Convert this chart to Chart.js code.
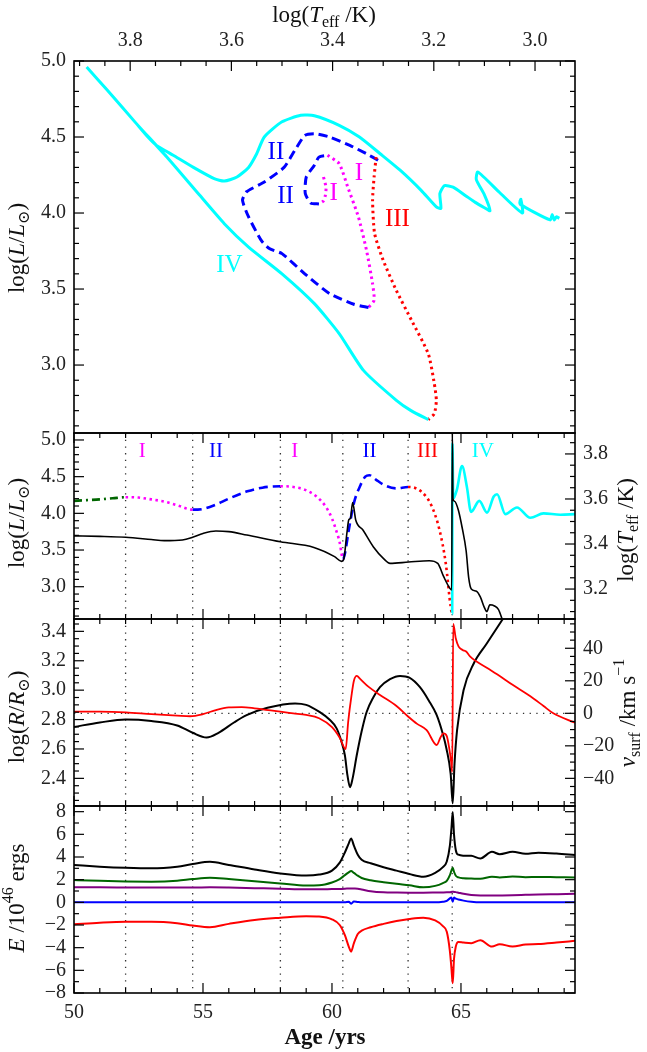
<!DOCTYPE html>
<html>
<head>
<meta charset="utf-8">
<script src="https://cdn.jsdelivr.net/npm/chart.js@4.4.1/dist/chart.umd.min.js"></script>
<style>
  html, body { margin: 0; padding: 0; background: #fff; }
  #wrap { position: relative; width: 647px; height: 1052px; }
  #wrap canvas { position: absolute; left: 0; top: 0; }
</style>
</head>
<body>
<div id="wrap">
  <canvas id="hr" width="647" height="1052"></canvas>
  <canvas id="lum" width="647" height="1052"></canvas>
  <canvas id="rad" width="647" height="1052"></canvas>
  <canvas id="eng" width="647" height="1052"></canvas>
</div>
<script>
// ---- top panel: HR diagram, one pair of arrays per phase (log Teff, log L) ----
var hrTeffI1 = [3.418, 3.413, 3.414, 3.418, 3.427];
var hrLumI1  = [4.237, 4.17, 4.12, 4.08, 4.06];
var hrTeffII1 = [3.427, 3.443, 3.454, 3.452, 3.436, 3.427, 3.41];
var hrLumII1  = [4.06, 4.065, 4.128, 4.237, 4.314, 4.368, 4.38];
var hrTeffI2 = [3.41, 3.387, 3.370, 3.349, 3.333, 3.321, 3.318, 3.329];
var hrLumI2  = [4.38, 4.325, 4.17, 3.974, 3.755, 3.535, 3.426, 3.378];
var hrTeffII2 = [3.329, 3.358, 3.406, 3.455, 3.50, 3.525, 3.541, 3.566, 3.578, 3.57, 3.535, 3.496, 3.475, 3.455, 3.436, 3.406, 3.366, 3.333, 3.309];
var hrLumII2  = [3.378, 3.40, 3.47, 3.60, 3.733, 3.766, 3.82, 3.974, 4.084, 4.14, 4.204, 4.30, 4.41, 4.51, 4.522, 4.50, 4.445, 4.39, 4.345];
var hrTeffIII = [3.314, 3.318, 3.321, 3.317, 3.30, 3.274, 3.244, 3.211, 3.199, 3.195, 3.199, 3.211];
var hrLumIII  = [4.368, 4.237, 4.084, 3.865, 3.689, 3.49, 3.294, 3.075, 2.878, 2.768, 2.68, 2.641];
var hrTeffIV = [3.211, 3.245, 3.274, 3.339, 3.387, 3.436, 3.50, 3.566, 3.614, 3.663, 3.728, 3.789, 3.845, 3.886,
                3.845, 3.789, 3.765, 3.748, 3.715, 3.675, 3.634, 3.614, 3.589, 3.566, 3.55, 3.535, 3.50, 3.463, 3.436,
                3.387, 3.347, 3.306, 3.266, 3.225, 3.195, 3.186, 3.188, 3.179, 3.162, 3.138, 3.118, 3.10, 3.089,
                3.10, 3.116, 3.113, 3.07, 3.025, 3.028, 3.03, 2.97, 2.966, 2.962, 2.958, 2.952];
var hrLumIV  = [2.641, 2.70, 2.768, 2.965, 3.207, 3.404, 3.60, 3.776, 3.93, 4.118, 4.37, 4.593, 4.807, 4.96,
                4.807, 4.593, 4.50, 4.445, 4.38, 4.30, 4.226, 4.21, 4.237, 4.30, 4.39, 4.50, 4.60, 4.643, 4.64,
                4.577, 4.50, 4.39, 4.28, 4.149, 4.04, 4.03, 4.128, 4.18, 4.17, 4.116, 4.07, 4.035, 4.015,
                4.12, 4.22, 4.27, 4.135, 4.0, 4.09, 4.06, 3.955, 3.99, 3.955, 3.975, 3.965];

// ---- phase boundaries (yrs) ----
var phaseEdges = [52.0, 54.6, 58.0, 60.42, 62.95, 64.66];
var phaseNames = ['I', 'II', 'I', 'II', 'III', 'IV'];
var phaseNameAge = [52.65, 55.5, 58.56, 61.45, 63.7, 65.85];

// ---- panel 2: log L (coloured by phase) and log Teff (black) vs age ----
var lumAge = [50, 50.5, 51, 51.5, 52.0, 52.5, 53, 53.5, 54, 54.6, 55.0, 55.44, 56.0, 56.72, 57.3, 58.0, 58.5, 58.96,
              59.4, 59.76, 60.0, 60.16, 60.3, 60.37, 60.42, 60.5, 60.65, 60.85, 61.1, 61.29, 61.45, 61.7, 62.0, 62.49,
              62.95, 63.45, 63.85, 64.17, 64.41, 64.6, 64.66, 64.67, 64.7, 64.84, 65.04, 65.23, 65.39, 65.71, 66.01,
              66.27, 66.4, 66.72, 67.17, 67.69, 68.2, 68.85, 69.42];
var lumVal = [4.17, 4.18, 4.19, 4.205, 4.22, 4.215, 4.19, 4.16, 4.11, 4.05, 4.06, 4.11, 4.20, 4.30, 4.35, 4.37, 4.36, 4.32,
              4.23, 4.09, 3.93, 3.77, 3.6, 3.45, 3.37, 3.45, 3.77, 4.14, 4.38, 4.50, 4.52, 4.46, 4.39, 4.34,
              4.36, 4.30, 4.11, 3.77, 3.32, 2.73, 2.63, 4.95, 4.2, 4.32, 4.645, 4.36, 4.02, 4.17, 4.01,
              4.23, 4.26, 3.99, 4.08, 3.94, 4.0, 3.98, 3.99];
var tempAge = [50, 51, 52, 53, 53.5, 54.2, 54.6, 55.0, 55.5, 56.0, 56.7, 58.0, 59.3, 60.1, 60.37, 60.45, 60.58, 60.65,
               60.72, 60.8, 60.92, 61.2, 61.6, 62.0, 62.25, 62.97, 63.77, 64.1, 64.33, 64.57, 64.64, 64.665, 64.69,
               64.75, 64.9, 65.05, 65.2, 65.3, 65.4, 65.6, 65.75, 65.9, 66.0, 66.12, 66.3, 66.45, 66.6, 66.7];
var tempVal = [3.436, 3.434, 3.43, 3.42, 3.415, 3.418, 3.43, 3.447, 3.458, 3.455, 3.44, 3.41, 3.385, 3.344, 3.323, 3.33,
               3.45, 3.507, 3.515, 3.584, 3.507, 3.462, 3.388, 3.335, 3.314, 3.32, 3.326, 3.314, 3.255, 3.203, 3.196,
               3.9, 3.6, 3.59, 3.55, 3.47, 3.37, 3.25, 3.2, 3.19, 3.165, 3.12, 3.10, 3.13, 3.125, 3.11, 3.065, 3.03];

// ---- panel 3: log R (black) and surface velocity (red) vs age ----
var radAge = [50, 51, 52, 53, 54, 54.6, 55.14, 55.6, 56.2, 56.69, 57.5, 58.57, 59.0, 59.53, 59.9, 60.18, 60.35, 60.5,
              60.6, 60.7, 60.8, 60.96, 61.15, 61.34, 61.6, 61.86, 62.25, 62.64, 63.0, 63.41, 63.75, 64.06, 64.3,
              64.44, 64.6, 64.68, 64.75, 64.85, 65.1, 65.49, 66.0, 66.59, 66.8];
var radVal = [2.75, 2.78, 2.80, 2.79, 2.76, 2.71, 2.678, 2.71, 2.78, 2.83, 2.88, 2.91, 2.90, 2.85, 2.80, 2.74, 2.66, 2.557,
              2.42, 2.34, 2.40, 2.557, 2.72, 2.85, 2.95, 3.02, 3.075, 3.097, 3.085, 3.02, 2.93, 2.83, 2.70,
              2.60, 2.43, 2.23, 2.50, 2.73, 3.0, 3.18, 3.317, 3.475, 3.53];
var velAge = [50, 51, 52, 53, 54, 54.5, 55, 55.5, 56, 56.5, 57, 58, 58.5, 59, 59.5, 60, 60.3, 60.53, 60.63, 60.76, 60.85,
              60.96, 61.1, 61.41, 61.86, 62.5, 62.96, 63.3, 63.67, 64.06, 64.2, 64.32, 64.45, 64.55, 64.62, 64.66,
              64.7, 64.8, 64.91, 65.06, 65.2, 65.35, 66.0, 66.4, 67.0, 67.69, 68.2, 68.58, 69.42];
var velVal = [1.0, 1.0, 0.6, -0.5, -1.4, -1.8, -0.5, 2.0, 3.6, 3.8, 3.1, 1.0, 0.0, -1.0, -3.0, -8.5, -15, -22, -5, 11.3, 20,
              23, 21, 16.4, 11.3, 4.5, -2.1, -6.5, -10.3, -19.5, -15, -12.3, -14, -22, -30, -36,
              55, 46, 41, 39, 38, 35, 28, 24, 17.5, 10.5, 4.5, 0, -5.8];

// ---- panel 4: energies (10^46 ergs) vs age ----
var engAge = [50, 51, 52, 53, 54, 54.6, 55.27, 56, 57, 58, 59, 59.5, 60, 60.3, 60.5, 60.65, 60.74, 60.85, 61.0, 61.15,
              61.5, 62, 62.5, 63, 63.54, 64, 64.3, 64.45, 64.57, 64.63, 64.68, 64.73, 64.8, 64.9, 65.1, 65.4, 65.75,
              66.2, 66.5, 67.0, 67.5, 68.0, 68.7, 69.42];
var engBlack = [3.29, 3.15, 3.05, 3.0, 3.15, 3.38, 3.58, 3.3, 2.9, 2.55, 2.36, 2.45, 2.8, 3.5, 4.4, 5.2, 5.64, 5.0, 4.2, 3.75,
                3.45, 3.1, 2.8, 2.5, 2.26, 2.6, 3.1, 3.6, 5.0, 6.5, 7.98, 6.0, 4.6, 4.2, 4.12, 4.1, 3.87,
                4.46, 4.25, 4.46, 4.28, 4.37, 4.3, 4.17];
var engGreen = [1.96, 1.9, 1.84, 1.82, 1.9, 2.05, 2.17, 2.05, 1.85, 1.67, 1.48, 1.5, 1.75, 2.05, 2.4, 2.65, 2.76, 2.6, 2.35,
                2.15, 1.95, 1.78, 1.63, 1.5, 1.32, 1.45, 1.7, 1.9, 2.4, 2.8, 3.05, 2.7, 2.35, 2.2, 2.12, 2.1, 2.08,
                2.25, 2.2, 2.28, 2.22, 2.24, 2.22, 2.2];
var engPurple = [1.32, 1.32, 1.31, 1.3, 1.3, 1.3, 1.32, 1.3, 1.25, 1.2, 1.15, 1.15, 1.17, 1.18, 1.2, 1.22, 1.23, 1.22, 1.2,
                 1.14, 0.98, 0.88, 0.86, 0.85, 0.85, 0.86, 0.87, 0.88, 0.9, 0.92, 0.94, 0.92, 0.9, 0.85, 0.75, 0.64,
                 0.6, 0.6, 0.61, 0.63, 0.66, 0.69, 0.72, 0.75];
var engBlue = [0, 0, 0, 0, 0, 0, 0, 0, 0, 0, 0, 0, 0, 0, 0, 0.05, -0.12, 0.08, 0.03, 0, 0, 0, 0, 0, 0, 0, 0.05, 0.12, 0.35,
               0.42, 0.05, 0.42, 0.32, 0.25, 0.15, 0.05, 0, 0, 0, 0, 0, 0, 0, 0];
var engRed = [-1.94, -1.8, -1.72, -1.72, -1.85, -2.05, -2.2, -1.9, -1.55, -1.36, -1.22, -1.25, -1.5, -2.0, -2.9, -3.9, -4.35,
              -3.6, -2.8, -2.5, -2.2, -1.9, -1.65, -1.47, -1.36, -1.6, -2.1, -2.6, -4.3, -5.8, -7.14, -5.0, -3.9, -3.5,
              -3.55, -3.6, -3.35, -3.9, -3.7, -3.9, -3.72, -3.68, -3.55, -3.4];

// ---- tick labels ----
var hrTeffTicks = [3.0, 3.2, 3.4, 3.6, 3.8];
var lumTicks = [3.0, 3.5, 4.0, 4.5, 5.0];
var tempTicks = [3.2, 3.4, 3.6, 3.8];
var radTicks = [2.4, 2.6, 2.8, 3.0, 3.2, 3.4];
var velTicks = [-40, -20, 0, 20, 40];
var engTicks = [-8, -6, -4, -2, 0, 2, 4, 6, 8];
var ageTicks = [50, 55, 60, 65];

var SERIF = '"Liberation Serif", "DejaVu Serif", serif';
var MAGENTA = '#ff00ff', BLUE = '#0000ff', RED = '#ff0000', CYAN = '#00ffff', GREEN = '#006600';
var DOT = [2.5, 3.5], DASH = [9, 5];
var phaseStyle = [
  { color: GREEN, dash: [8, 4, 2, 4] },
  { color: MAGENTA, dash: DOT },
  { color: BLUE, dash: DASH },
  { color: MAGENTA, dash: DOT },
  { color: BLUE, dash: DASH },
  { color: RED, dash: DOT },
  { color: CYAN, dash: [] }
];
var phaseColor = [MAGENTA, BLUE, MAGENTA, BLUE, RED, CYAN];
var TITLE_SIZE = 23, TICK_SIZE = 20;

function pts(xs, ys) { return xs.map(function (x, i) { return { x: x, y: ys[i] }; }); }
function phaseOf(age) { return phaseEdges.filter(function (e) { return age >= e - 1e-9; }).length; }
function minus(v) { return String(v).replace('-', '\u2212'); }

// rich text (italic / sub / superscript) for the axis titles
function drawRich(ctx, segs, x, y, rot, size) {
  ctx.save();
  ctx.translate(x, y);
  ctx.rotate(rot);
  function font(s) {
    var sz = (s.sub || s.sup) ? Math.round(size * 0.7) : size;
    return (s.i ? 'italic ' : '') + (s.b ? 'bold ' : '') + sz + 'px ' + SERIF;
  }
  var w = 0;
  segs.forEach(function (s) { ctx.font = font(s); w += ctx.measureText(s.t).width; });
  var cx = -w / 2;
  ctx.textAlign = 'left';
  ctx.textBaseline = 'middle';
  ctx.fillStyle = '#111';
  segs.forEach(function (s) {
    ctx.font = font(s);
    var dy = s.sub ? size * 0.3 : (s.sup ? -size * 0.38 : 0);
    ctx.fillText(s.t, cx, dy);
    cx += ctx.measureText(s.t).width;
  });
  ctx.restore();
}

var T_EFF = [{ t: 'log(' }, { t: 'T', i: 1 }, { t: 'eff', sub: 1 }, { t: ' /K)' }];
var LUM = [{ t: 'log(' }, { t: 'L', i: 1 }, { t: '/' }, { t: 'L', i: 1 }, { t: '\u2299', sub: 1 }, { t: ')' }];
var RAD = [{ t: 'log(' }, { t: 'R', i: 1 }, { t: '/' }, { t: 'R', i: 1 }, { t: '\u2299', sub: 1 }, { t: ')' }];
var VSURF = [{ t: 'v', i: 1 }, { t: 'surf', sub: 1 }, { t: ' /km s' }, { t: '\u22121', sup: 1 }];
var ENERGY = [{ t: 'E', i: 1 }, { t: ' /10' }, { t: '46', sup: 1 }, { t: ' ergs' }];
var AGE = [{ t: 'Age /yrs', b: 1 }];

// frame, inward ticks, guide lines, text tags and titles
var decor = {
  id: 'decor',
  beforeDatasetsDraw: function (chart, args, o) {
    var ctx = chart.ctx, a = chart.chartArea, sc = chart.scales;
    ctx.save();
    ctx.lineWidth = 1.3;
    ctx.strokeStyle = '#333';
    ctx.setLineDash([1.3, 5.4]);
    (o.vlines || []).forEach(function (v) {
      var px = sc.x.getPixelForValue(v);
      ctx.beginPath(); ctx.moveTo(px, a.top); ctx.lineTo(px, a.bottom); ctx.stroke();
    });
    (o.hlines || []).forEach(function (h) {
      var py = sc[h.axis].getPixelForValue(h.value);
      ctx.beginPath(); ctx.moveTo(a.left, py); ctx.lineTo(a.right, py); ctx.stroke();
    });
    ctx.restore();
  },
  afterDatasetsDraw: function (chart, args, o) {
    var ctx = chart.ctx, a = chart.chartArea, sc = chart.scales;
    ctx.save();
    (o.tags || []).forEach(function (t) {
      ctx.font = t.size + 'px ' + SERIF;
      ctx.fillStyle = t.color;
      ctx.textAlign = 'center';
      ctx.textBaseline = 'middle';
      ctx.fillText(t.text, sc[t.xAxis || 'x'].getPixelForValue(t.x), sc[t.yAxis].getPixelForValue(t.y));
    });
    ctx.strokeStyle = '#000';
    ctx.lineWidth = 1.2;
    (o.marks || []).forEach(function (m) {
      var s = sc[m.axis];
      var lo = Math.min(s.min, s.max), hi = Math.max(s.min, s.max);
      var k0 = Math.ceil(lo / m.minor - 1e-6), k1 = Math.floor(hi / m.minor + 1e-6);
      for (var k = k0; k <= k1; k++) {
        var v = k * m.minor, r = v / m.major;
        var len = Math.abs(r - Math.round(r)) < 1e-6 ? 10 : 5;
        var p = s.getPixelForValue(v);
        m.sides.forEach(function (side) {
          ctx.beginPath();
          if (side === 'left') { ctx.moveTo(a.left, p); ctx.lineTo(a.left + len, p); }
          if (side === 'right') { ctx.moveTo(a.right, p); ctx.lineTo(a.right - len, p); }
          if (side === 'top') { ctx.moveTo(p, a.top); ctx.lineTo(p, a.top + len); }
          if (side === 'bottom') { ctx.moveTo(p, a.bottom); ctx.lineTo(p, a.bottom - len); }
          ctx.stroke();
        });
      }
    });
    ctx.lineWidth = 1.6;
    ctx.strokeRect(a.left, a.top, a.right - a.left, a.bottom - a.top);
    (o.titles || []).forEach(function (t) { drawRich(ctx, t.segs, t.x, t.y, t.rot || 0, t.size || TITLE_SIZE); });
    ctx.restore();
  }
};

function axis(pos, min, max, ticks, fmt, fit, extra) {
  var cfg = {
    type: 'linear', position: pos, min: min, max: max,
    grid: { display: false, drawTicks: false },
    border: { display: false },
    afterBuildTicks: function (s) { s.ticks = ticks.map(function (v) { return { value: v }; }); },
    afterFit: fit,
    ticks: {
      autoSkip: false, maxRotation: 0, padding: 8, color: '#222',
      font: { family: SERIF, size: TICK_SIZE },
      callback: fmt
    }
  };
  return Object.assign(cfg, extra || {});
}
var f1 = function (v) { return Number(v).toFixed(1); };
var fInt = function (v) { return minus(v); };
var leftFit = function (s) { s.width = 74; };
var rightFit = function (s) { s.width = 72; };

function baseOptions(pad, scales, decorOpts) {
  return {
    responsive: false, animation: false, devicePixelRatio: 1,
    layout: { padding: pad },
    elements: { point: { radius: 0 } },
    plugins: { legend: { display: false }, tooltip: { enabled: false }, decor: decorOpts },
    scales: scales
  };
}
function hiddenAge() { return { type: 'linear', min: 50, max: 69.42, display: false }; }
var ageMarks = { axis: 'x', major: 5, minor: 1, sides: ['top', 'bottom'] };

// ---------- chart 1: HR diagram ----------
function hrSet(tx, ly, color, dash) {
  return { data: pts(tx, ly), borderColor: color, borderDash: dash, borderWidth: 3, tension: 0.2, fill: false };
}
new Chart(document.getElementById('hr'), {
  type: 'line',
  data: {
    datasets: [
      hrSet(hrTeffIV, hrLumIV, CYAN, []),
      hrSet(hrTeffIII, hrLumIII, RED, DOT),
      hrSet(hrTeffII2, hrLumII2, BLUE, DASH),
      hrSet(hrTeffI2, hrLumI2, MAGENTA, DOT),
      hrSet(hrTeffII1, hrLumII1, BLUE, DASH),
      hrSet(hrTeffI1, hrLumI1, MAGENTA, DOT)
    ]
  },
  plugins: [decor],
  options: baseOptions({ top: 0, left: 0, right: 72, bottom: 1052 - 433 }, {
    x: axis('top', 2.921, 3.911, hrTeffTicks, f1, function (s) { s.height = 61; }, { reverse: true }),
    y: axis('left', 2.553, 5.0, lumTicks, f1, leftFit)
  }, {
    marks: [
      { axis: 'x', major: 0.2, minor: 0.05, sides: ['top'] },
      { axis: 'y', major: 0.5, minor: 0.1, sides: ['left', 'right'] }
    ],
    tags: [
      { text: 'II', x: 3.512, y: 4.40, color: BLUE, yAxis: 'y', size: 25 },
      { text: 'II', x: 3.493, y: 4.11, color: BLUE, yAxis: 'y', size: 25 },
      { text: 'I', x: 3.398, y: 4.13, color: MAGENTA, yAxis: 'y', size: 25 },
      { text: 'I', x: 3.348, y: 4.26, color: MAGENTA, yAxis: 'y', size: 25 },
      { text: 'III', x: 3.272, y: 3.96, color: RED, yAxis: 'y', size: 25 },
      { text: 'IV', x: 3.604, y: 3.656, color: CYAN, yAxis: 'y', size: 25 }
    ],
    titles: [
      { segs: T_EFF, x: 324, y: 16 },
      { segs: LUM, x: 18, y: 248, rot: -Math.PI / 2 }
    ]
  })
});

// ---------- chart 2: log L and log Teff vs age ----------
new Chart(document.getElementById('lum'), {
  type: 'line',
  data: {
    datasets: [
      { data: pts(tempAge, tempVal), yAxisID: 'yT', borderColor: '#000', borderWidth: 1.6, cubicInterpolationMode: 'monotone' },
      {
        data: pts(lumAge, lumVal), yAxisID: 'yL', borderWidth: 2.6, cubicInterpolationMode: 'monotone',
        borderColor: CYAN,
        segment: {
          borderColor: function (c) { return phaseStyle[phaseOf(c.p0.parsed.x)].color; },
          borderDash: function (c) { return phaseStyle[phaseOf(c.p0.parsed.x)].dash; }
        }
      }
    ]
  },
  plugins: [decor],
  options: baseOptions({ top: 433, left: 0, right: 0, bottom: 1052 - 619 }, {
    x: hiddenAge(),
    yL: axis('left', 2.56, 5.095, lumTicks, f1, leftFit),
    yT: axis('right', 3.067, 3.893, tempTicks, f1, rightFit)
  }, {
    vlines: phaseEdges,
    marks: [
      ageMarks,
      { axis: 'yL', major: 0.5, minor: 0.1, sides: ['left'] },
      { axis: 'yT', major: 0.2, minor: 0.05, sides: ['right'] }
    ],
    tags: phaseNames.map(function (n, i) {
      return { text: n, x: phaseNameAge[i], y: 4.84, color: phaseColor[i], yAxis: 'yL', size: 21 };
    }),
    titles: [
      { segs: LUM, x: 18, y: 523, rot: -Math.PI / 2 },
      { segs: T_EFF, x: 627, y: 530, rot: -Math.PI / 2 }
    ]
  })
});

// ---------- chart 3: log R and v_surf vs age ----------
new Chart(document.getElementById('rad'), {
  type: 'line',
  data: {
    datasets: [
      { data: pts(velAge, velVal), yAxisID: 'yV', borderColor: RED, borderWidth: 1.8, cubicInterpolationMode: 'monotone' },
      { data: pts(radAge, radVal), yAxisID: 'yR', borderColor: '#000', borderWidth: 2, cubicInterpolationMode: 'monotone' }
    ]
  },
  plugins: [decor],
  options: baseOptions({ top: 619, left: 0, right: 0, bottom: 1052 - 806 }, {
    x: hiddenAge(),
    yR: axis('left', 2.212, 3.484, radTicks, f1, leftFit),
    yV: axis('right', -57, 58, velTicks, fInt, rightFit)
  }, {
    vlines: phaseEdges,
    hlines: [{ axis: 'yV', value: 0 }],
    marks: [
      ageMarks,
      { axis: 'yR', major: 0.2, minor: 0.05, sides: ['left'] },
      { axis: 'yV', major: 20, minor: 5, sides: ['right'] }
    ],
    titles: [
      { segs: RAD, x: 18, y: 717, rot: -Math.PI / 2 },
      { segs: VSURF, x: 629, y: 713, rot: -Math.PI / 2 }
    ]
  })
});

// ---------- chart 4: energies vs age ----------
function engSet(vals, color) {
  return { data: pts(engAge, vals), borderColor: color, borderWidth: 2, cubicInterpolationMode: 'monotone' };
}
new Chart(document.getElementById('eng'), {
  type: 'line',
  data: {
    datasets: [
      engSet(engRed, RED),
      engSet(engBlue, BLUE),
      engSet(engPurple, '#800080'),
      engSet(engGreen, GREEN),
      engSet(engBlack, '#000')
    ]
  },
  plugins: [decor],
  options: baseOptions({ top: 806, left: 0, right: 72, bottom: 0 }, {
    x: axis('bottom', 50, 69.42, ageTicks, function (v) { return String(v); }, function (s) { s.height = 59; }),
    y: axis('left', -8, 8.5, engTicks, fInt, leftFit)
  }, {
    vlines: phaseEdges,
    marks: [
      ageMarks,
      { axis: 'y', major: 2, minor: 1, sides: ['left', 'right'] }
    ],
    titles: [
      { segs: ENERGY, x: 18, y: 898, rot: -Math.PI / 2 },
      { segs: AGE, x: 325, y: 1038 }
    ]
  })
});
</script>
</body>
</html>
